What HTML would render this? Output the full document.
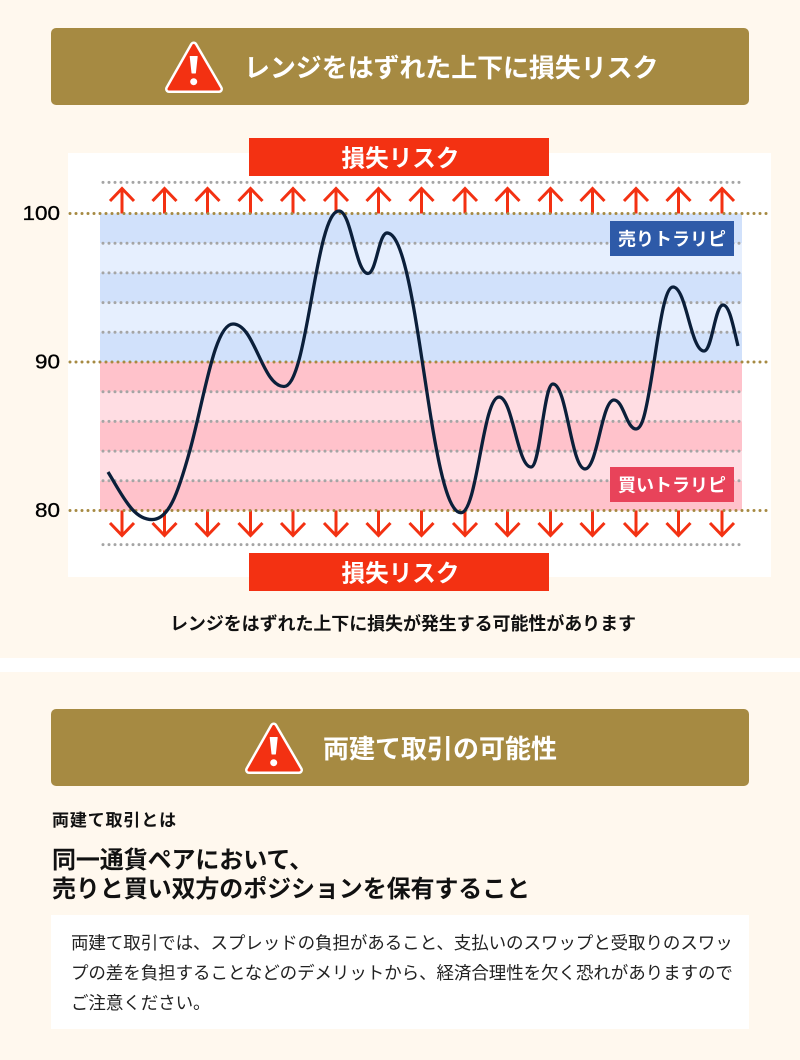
<!DOCTYPE html>
<html lang="ja">
<head>
<meta charset="utf-8">
<title>レンジをはずれた上下に損失リスク</title>
<style>
html,body{margin:0;padding:0}
body{width:800px;height:1060px;position:relative;overflow:hidden;background:#fff8ee;font-family:"Liberation Sans","Noto Sans CJK JP",sans-serif;color:#111}
.abs{position:absolute;white-space:nowrap}
.hdr{position:absolute;left:51px;width:698px;height:77px;background:#a68a42;border-radius:5px}
.hdr-t{position:absolute;color:#fff;font-weight:700;font-size:26px;line-height:40px;white-space:nowrap}
</style>
</head>
<body>
<div class="abs" style="left:0;top:658px;width:800px;height:14px;background:#fff"></div>

<div class="hdr" style="top:28px"></div>
<svg class="abs" style="left:160px;top:36px" width="70" height="62" viewBox="0 0 70 62">
  <path d="M33.700 9.500 L59 53 L9 53 Z" fill="#fff" stroke="#fff" stroke-width="8" stroke-linejoin="round"/>
  <path d="M33.700 9.500 L59 53 L9 53 Z" fill="#f33112" stroke="#f33112" stroke-width="3" stroke-linejoin="round"/>
  <path d="M30.200 20.500 L37.200 20.500 L35.400 37 L32 37 Z" fill="#fff" stroke="#fff" stroke-linejoin="round"/>
  <circle cx="33.700" cy="45.700" r="3.500" fill="#fff"/>
</svg>
<div class="hdr-t" style="left:244px;top:47.500px;letter-spacing:-.1px">レンジをはずれた上下に損失リスク</div>

<svg class="abs" id="chart" style="left:0;top:130px" width="800" height="470" viewBox="0 130 800 470">
  <rect x="68" y="153" width="703" height="424" fill="#fff"/>
  <g id="bands"></g>
  <g id="grid"></g>
  <g id="arrows"></g>
  <g id="levels"></g>
  <path id="price" fill="none" stroke="#0b1f3a" stroke-width="3.300" stroke-linejoin="round"/>
  <g id="ticks"></g>
  <rect x="249" y="138" width="300" height="38" fill="#f33112"/>
  <text x="400.500" y="166.500" text-anchor="middle" fill="#fff" font-size="23.600" font-weight="700">損失リスク</text>
  <rect x="249" y="553" width="300" height="38" fill="#f33112"/>
  <text x="400.500" y="581.500" text-anchor="middle" fill="#fff" font-size="23.600" font-weight="700">損失リスク</text>
  <rect x="610" y="221" width="124" height="35" fill="#2e5aa8"/>
  <text x="672" y="245.500" text-anchor="middle" fill="#fff" font-size="18" font-weight="700">売りトラリピ</text>
  <rect x="610" y="467" width="124" height="35" fill="#e8435a"/>
  <text x="672" y="491.500" text-anchor="middle" fill="#fff" font-size="18" font-weight="700">買いトラリピ</text>
</svg>

<div class="abs" style="left:170px;top:611px;font-size:18px;line-height:26px;font-weight:700;letter-spacing:-.08px">レンジをはずれた上下に損失が発生する可能性があります</div>

<div class="hdr" style="top:709px"></div>
<svg class="abs" style="left:239.500px;top:717px" width="70" height="62" viewBox="0 0 70 62">
  <path d="M33.700 9.500 L59 53 L9 53 Z" fill="#fff" stroke="#fff" stroke-width="8" stroke-linejoin="round"/>
  <path d="M33.700 9.500 L59 53 L9 53 Z" fill="#f33112" stroke="#f33112" stroke-width="3" stroke-linejoin="round"/>
  <path d="M30.200 20.500 L37.200 20.500 L35.400 37 L32 37 Z" fill="#fff" stroke="#fff" stroke-linejoin="round"/>
  <circle cx="33.700" cy="45.700" r="3.500" fill="#fff"/>
</svg>
<div class="hdr-t" style="left:323px;top:729px">両建て取引の可能性</div>

<div class="abs" style="left:52px;top:807.500px;font-size:17px;line-height:26px;font-weight:700;letter-spacing:.85px">両建て取引とは</div>
<div class="abs" style="left:52px;top:845.500px;font-size:24px;line-height:29px;font-weight:700;letter-spacing:-.1px">同一通貨ペアにおいて、<br>売りと買い双方のポジションを保有すること</div>

<div class="abs" style="left:51px;top:915px;width:698px;height:114px;background:#fff"></div>
<div class="abs" style="left:71px;top:927.500px;font-size:17.500px;line-height:30px;letter-spacing:-.07px;color:#222">両建て取引では、スプレッドの負担があること、支払いのスワップと受取りのスワッ<br>プの差を負担することなどのデメリットから、経済合理性を欠く恐れがありますので<br>ご注意ください。</div>

<script>
const sessions=[0,22,41,62.5,88,115.5,130,139.5,176.5,195.5,211.5,222.5,238.5,253,264,271,282.5,298,307.5,315];
const prices=[82.59,79.39,84.07,92.56,88.35,100.17,95.96,98.69,79.85,87.64,82.93,88.52,82.80,87.44,85.49,88.32,95.05,90.74,93.84,91.08];
const priceTicks=[100,90,80];
const gridLevels=[98,96,94,92,88,86,84,82];
const riskLevels=[102.1,77.7];
const sellBands=[[100,98],[98,96],[96,94],[94,92],[92,90]];
const buyBands=[[90,88],[88,86],[86,84],[84,82],[82,80]];
const arrowSessions=[7,28.25,49.75,71.25,92.5,114,135.25,156.75,178.5,199.75,221.25,242.25,264,285.25,307];

const NS='http://www.w3.org/2000/svg';
function xScale(t){return 108+t*(738-108)/315;}
function yScale(v){return 213.5+(100-v)*(510.5-213.5)/20;}
function make(tag,attrs,parent){
  const el=document.createElementNS(NS,tag);
  for(const k in attrs)el.setAttribute(k,attrs[k]);
  parent.appendChild(el);
  return el;
}
const bandsG=document.getElementById('bands');
sellBands.forEach(function(b,i){
  const el=make('rect',{x:100,y:yScale(b[0]),width:642,height:yScale(b[1])-yScale(b[0]),fill:i%2?'#e6effe':'#d1e1fb'},bandsG);
  
  
});
buyBands.forEach(function(b,i){
  const el=make('rect',{x:100,y:yScale(b[0]),width:642,height:yScale(b[1])-yScale(b[0]),fill:i%2?'#ffdde3':'#ffc2cb'},bandsG);
  
  
});
const gridG=document.getElementById('grid');
gridLevels.concat(riskLevels).forEach(function(v){
  const y=yScale(v);
  const el=make('line',{x1:103,x2:741,y1:y,y2:y,stroke:'#a5a5a5','stroke-width':3,'stroke-dasharray':'0 6','stroke-linecap':'round'},gridG);
  
  
});
const arrowsG=document.getElementById('arrows');
arrowSessions.forEach(function(t){
  const x=xScale(t);
  const top=yScale(100);
  const bot=yScale(80);
  const up=make('path',{d:'M'+x+' '+top+'V188M'+(x-12)+' 201L'+x+' 188.500L'+(x+12)+' 201',fill:'none',stroke:'#f33112','stroke-width':3},arrowsG);
  
  
  const dn=make('path',{d:'M'+x+' '+bot+'V535M'+(x-12)+' 523L'+x+' 535.500L'+(x+12)+' 523',fill:'none',stroke:'#f33112','stroke-width':3},arrowsG);
  
  
});
const levelsG=document.getElementById('levels');
const ticksG=document.getElementById('ticks');
priceTicks.forEach(function(v){
  const y=yScale(v);
  const ln=make('line',{x1:70,x2:770,y1:y,y2:y,stroke:'#a68a42','stroke-width':3,'stroke-dasharray':'0 6','stroke-linecap':'round'},levelsG);
  
  
  const tx=make('text',{x:60,y:y+6.3,'text-anchor':'end','font-size':20,fill:'#000',stroke:'#000','stroke-width':0.3,textLength:String(v).length*12.5,lengthAdjust:'spacingAndGlyphs'},ticksG);
  tx.textContent=v;
  
  
});
function smoothPath(xs,ys){
  const n=xs.length,h=[],s=[],m=[];
  for(let i=0;i<n-1;i++){h[i]=xs[i+1]-xs[i];s[i]=(ys[i+1]-ys[i])/h[i];}
  m[0]=1.5*s[0];m[n-1]=1.5*s[n-2];
  for(let i=1;i<n-1;i++){
    if(s[i-1]*s[i]<=0){m[i]=0;continue;}
    m[i]=1.5*(ys[i+1]-ys[i-1])/(xs[i+1]-xs[i-1]);
  }
  let d='M'+xs[0]+' '+ys[0];
  for(let i=0;i<n-1;i++){
    const c0=(m[i]===0?0.43:1/3)*h[i];
    const c1=(m[i+1]===0?0.43:1/3)*h[i];
    d+='C'+(xs[i]+c0).toFixed(2)+' '+(ys[i]+m[i]*c0).toFixed(2)+' '+(xs[i+1]-c1).toFixed(2)+' '+(ys[i+1]-m[i+1]*c1).toFixed(2)+' '+xs[i+1].toFixed(2)+' '+ys[i+1].toFixed(2);
  }
  return d;
}
document.getElementById('price').setAttribute('d',smoothPath(sessions.map(xScale),prices.map(yScale)));
</script>
</body>
</html>
